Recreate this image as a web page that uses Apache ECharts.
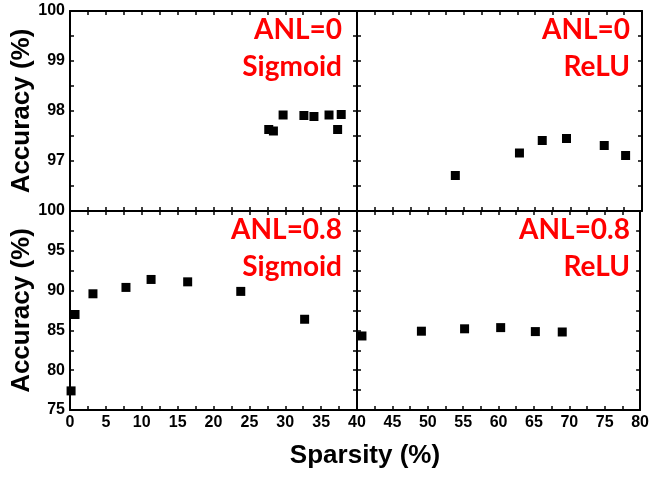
<!DOCTYPE html>
<html>
<head>
<meta charset="utf-8">
<script src="https://cdn.jsdelivr.net/npm/echarts@6/dist/echarts.min.js"></script>
<style>
  html, body { margin: 0; padding: 0; background: #fff; }
  #main { width: 652px; height: 477px; }
</style>
</head>
<body>
<div id="main"></div>
<script>
// values (sparsity %, accuracy %)
const sigAnl0X = [27.7, 28.35, 29.7, 32.6, 34.0, 36.1, 37.3, 37.8];
const sigAnl0Y = [97.63, 97.60, 97.92, 97.91, 97.89, 97.92, 97.63, 97.93];
const reluAnl0X = [53.8, 62.8, 66.0, 69.4, 74.7, 77.7];
const reluAnl0Y = [96.71, 97.16, 97.41, 97.45, 97.31, 97.11];
const sigAnl08X = [0.15, 0.7, 3.2, 7.8, 11.3, 16.4, 23.8, 32.7];
const sigAnl08Y = [77.4, 87.0, 89.6, 90.4, 91.4, 91.1, 89.9, 86.4];
const reluAnl08X = [40.7, 49.1, 55.2, 60.3, 65.2, 69.0];
const reluAnl08Y = [84.3, 84.9, 85.2, 85.35, 84.85, 84.8];

const panelLabels = [['ANL=0', 'Sigmoid'], ['ANL=0', 'ReLU'], ['ANL=0.8', 'Sigmoid'], ['ANL=0.8', 'ReLU']];
const xRanges = [[0, 40], [40, 80], [0, 40], [40, 80]];
const yRanges = [[96, 100, 1], [96, 100, 1], [75, 100, 5], [75, 100, 5]];

const pair = (xs, ys) => xs.map((x, i) => [x, ys[i]]);
const panelData = [pair(sigAnl0X, sigAnl0Y), pair(reluAnl0X, reluAnl0Y), pair(sigAnl08X, sigAnl08Y), pair(reluAnl08X, reluAnl08Y)];

const grids = [
  { left: 70, top: 11, width: 287, height: 200 },
  { left: 357, top: 11, width: 285, height: 200 },
  { left: 70, top: 211, width: 287, height: 199 },
  { left: 357, top: 211, width: 285, height: 199 }
];

const labelFont = { color: '#000', fontFamily: 'Liberation Sans, Arial', fontWeight: 'bold', fontSize: 16 };
const tick = { show: true, inside: true, length: 4, lineStyle: { color: '#000', width: 1.5 } };
const minor = { show: true, splitNumber: 2, length: 4, lineStyle: { color: '#000', width: 1.5 } };
const line = { show: true, onZero: false, lineStyle: { color: '#000', width: 2 } };

let xAxes = [], yAxes = [], series = [], graphics = [];

grids.forEach(function (g, i) {
  let bottomRow = i >= 2;
  let leftCol = i % 2 === 0;
  // bottom / top x axes
  xAxes.push({
    type: 'value', gridIndex: i, position: 'bottom',
    min: xRanges[i][0], max: xRanges[i][1], interval: 5,
    axisLine: line, axisTick: tick, minorTick: minor, splitLine: { show: false },
    axisLabel: Object.assign({ show: bottomRow, margin: 5, showMinLabel: leftCol }, labelFont)
  });
  xAxes.push({
    type: 'value', gridIndex: i, position: 'top',
    min: xRanges[i][0], max: xRanges[i][1], interval: 5,
    axisLine: line, axisTick: tick, minorTick: minor, splitLine: { show: false },
    axisLabel: { show: false }
  });
  // left / right y axes
  yAxes.push({
    type: 'value', gridIndex: i, position: 'left',
    min: yRanges[i][0], max: yRanges[i][1], interval: yRanges[i][2],
    axisLine: line, axisTick: tick, minorTick: minor, splitLine: { show: false },
    axisLabel: Object.assign({ show: leftCol, margin: 5, showMinLabel: bottomRow }, labelFont),
    name: leftCol ? 'Accuracy (%)' : '',
    nameLocation: 'middle', nameGap: 34,
    nameTextStyle: { color: '#000', fontFamily: 'Liberation Sans, Arial', fontWeight: 'bold', fontSize: 26 }
  });
  yAxes.push({
    type: 'value', gridIndex: i, position: 'right',
    min: yRanges[i][0], max: yRanges[i][1], interval: yRanges[i][2],
    axisLine: line, axisTick: tick, minorTick: minor, splitLine: { show: false },
    axisLabel: { show: false }
  });

  series.push({
    type: 'scatter', xAxisIndex: 2 * i, yAxisIndex: 2 * i,
    symbol: 'rect', symbolSize: 9, clip: false,
    itemStyle: { color: '#000', opacity: 1 },
    data: panelData[i]
  });

  // red panel labels, right aligned
  let rightX = leftCol ? 342 : 630;
  panelLabels[i].forEach(function (t, k) {
    graphics.push({
      type: 'text', x: rightX, y: g.top + 19 + k * 37,
      style: { text: t, align: 'right', verticalAlign: 'middle', fill: '#ff0000', font: 'bold 28px Lato' }
    });
  });
});

graphics.push({
  type: 'text', x: 365, y: 456,
  style: { text: 'Sparsity (%)', align: 'center', verticalAlign: 'middle', fill: '#000', font: 'bold 26px "Liberation Sans"' }
});

const chart = echarts.init(document.getElementById('main'));
chart.setOption({
  animation: false,
  grid: grids,
  xAxis: xAxes,
  yAxis: yAxes,
  series: series,
  graphic: graphics
});
</script>
</body>
</html>
